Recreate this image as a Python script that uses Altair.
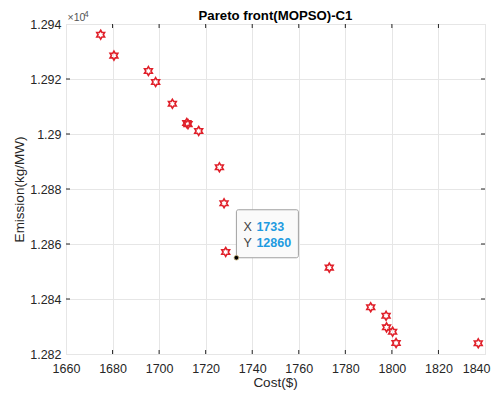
import altair as alt
import pandas as pd

# Pareto front points (Cost in $, Emission in kg/MW)
cost = [1674.9, 1680.6, 1695.4, 1698.5, 1705.7, 1711.9, 1712.4, 1717.0, 1725.9,
        1727.9, 1728.6, 1773.1, 1790.9, 1797.5, 1797.7, 1800.3, 1801.8, 1837.1]
emission = [12936.1, 12928.5, 12922.9, 12918.9, 12911.0, 12904.0, 12903.6, 12901.1, 12887.9,
            12874.8, 12857.1, 12851.4, 12837.0, 12833.9, 12829.7, 12828.1, 12824.0, 12823.9]

# data tip
tip_cost = [1733.2]
tip_emission = [12855.0]
tip_x_text = ["1733"]
tip_y_text = ["12860"]

title_text = ["Pareto front(MOPSO)-C1"]
x_title = ["Cost($)"]

x_ticks = [1660, 1680, 1700, 1720, 1740, 1760, 1780, 1800, 1820, 1840]
y_ticks = [1.282, 1.284, 1.286, 1.288, 1.29, 1.292, 1.294]
inner_x_ticks = x_ticks[1:-1]
inner_y_ticks = y_ticks[1:-1]

W, H = 419, 330
FONT = "Liberation Sans"
AX = "#262626"

pts = pd.DataFrame({"cost": cost, "emission": emission})
pts["e"] = pts["emission"] / 10000.0
tip = pd.DataFrame({"cost": tip_cost, "emission": tip_emission,
                    "xt": tip_x_text, "yt": tip_y_text})
tip["e"] = tip["emission"] / 10000.0

xscale = alt.Scale(domain=[1660, 1840], nice=False, zero=False)
yscale = alt.Scale(domain=[1.282, 1.294], nice=False, zero=False)

X = alt.X("cost:Q", scale=xscale, title=None,
          axis=alt.Axis(values=x_ticks, grid=True, gridColor="#e6e6e6", tickSize=0,
                        domain=False, labelPadding=8, labelFontSize=12.5, labelFont=FONT,
                        labelColor=AX, format="d", labelFlush=False,
                        labelAlign=alt.condition("datum.value == 1840",
                                                 alt.value("right"), alt.value("center")),
                        labelOffset=alt.condition("datum.value == 1840",
                                                  alt.value(5), alt.value(0))))
Y = alt.Y("e:Q", scale=yscale, title="Emission(kg/MW)",
          axis=alt.Axis(values=y_ticks, grid=True, gridColor="#e6e6e6", tickSize=0,
                        domain=False, labelPadding=5, labelFontSize=12.5, labelFont=FONT,
                        labelColor=AX, titleFont=FONT, titleFontSize=13.5,
                        titleFontWeight="normal", titleColor=AX, titlePadding=3,
                        format="~g", labelFlush=False))

hexagram = ("M0,-1L0.289,-0.5L0.866,-0.5L0.577,0L0.866,0.5L0.289,0.5L0,1"
            "L-0.289,0.5L-0.866,0.5L-0.577,0L-0.866,-0.5L-0.289,-0.5Z")

points = alt.Chart(pts).mark_point(shape=hexagram, size=80, filled=False,
                                   stroke="#e0202a", strokeWidth=1.6, opacity=1).encode(x=X, y=Y)

# inward ticks
xt = pd.DataFrame({"t": inner_x_ticks})
yt = pd.DataFrame({"t": inner_y_ticks})
tick_bottom = alt.Chart(xt).mark_rule(color=AX, strokeWidth=1).encode(
    x=alt.X("t:Q", scale=xscale), y=alt.value(H), y2=alt.value(H - 4))
tick_top = alt.Chart(xt).mark_rule(color=AX, strokeWidth=1).encode(
    x=alt.X("t:Q", scale=xscale), y=alt.value(0), y2=alt.value(4))
tick_left = alt.Chart(yt).mark_rule(color=AX, strokeWidth=1).encode(
    y=alt.Y("t:Q", scale=yscale), x=alt.value(0), x2=alt.value(4))
tick_right = alt.Chart(yt).mark_rule(color=AX, strokeWidth=1).encode(
    y=alt.Y("t:Q", scale=yscale), x=alt.value(W), x2=alt.value(W - 4))

# data tip
box = alt.Chart(tip).mark_rect(fill="#fafafa", stroke="#a0a0a0", strokeWidth=1,
                               cornerRadius=2, x2Offset=62, y2Offset=-48).encode(
    x=alt.X("cost:Q", scale=xscale), x2="cost:Q",
    y=alt.Y("e:Q", scale=yscale), y2="e:Q")
dot = alt.Chart(tip).mark_point(filled=True, color="black", size=22, opacity=1,
                                stroke="#c9b27a", strokeWidth=0.8).encode(
    x=alt.X("cost:Q", scale=xscale), y=alt.Y("e:Q", scale=yscale))
lab_x = alt.Chart(tip).mark_text(text="X", align="left", baseline="middle", dx=7, dy=-31,
                                 font=FONT, fontSize=12.5, color="#444444").encode(
    x=alt.X("cost:Q", scale=xscale), y=alt.Y("e:Q", scale=yscale))
lab_y = alt.Chart(tip).mark_text(text="Y", align="left", baseline="middle", dx=7, dy=-15,
                                 font=FONT, fontSize=12.5, color="#444444").encode(
    x=alt.X("cost:Q", scale=xscale), y=alt.Y("e:Q", scale=yscale))
val_x = alt.Chart(tip).mark_text(align="left", baseline="middle", dx=20, dy=-31,
                                 font=FONT, fontSize=12.5, fontWeight="bold",
                                 color="#1e9be0").encode(
    x=alt.X("cost:Q", scale=xscale), y=alt.Y("e:Q", scale=yscale), text="xt:N")
val_y = alt.Chart(tip).mark_text(align="left", baseline="middle", dx=20, dy=-15,
                                 font=FONT, fontSize=12.5, fontWeight="bold",
                                 color="#1e9be0").encode(
    x=alt.X("cost:Q", scale=xscale), y=alt.Y("e:Q", scale=yscale), text="yt:N")

# exponent label
exp_df = pd.DataFrame({"a": ["×10"], "b": ["4"]})
exp_a = alt.Chart(exp_df).mark_text(align="left", baseline="alphabetic", font=FONT,
                                    fontSize=10.5, color="#555555").encode(
    x=alt.value(1.5), y=alt.value(-3), text="a:N")
exp_b = alt.Chart(exp_df).mark_text(align="left", baseline="alphabetic", font=FONT,
                                    fontSize=8.5, color="#555555").encode(
    x=alt.value(18), y=alt.value(-7.5), text="b:N")

# chart title and x-axis title as text marks
title_df = pd.DataFrame({"t": title_text})
title = alt.Chart(title_df).mark_text(align="center", baseline="alphabetic", font=FONT,
                                      fontSize=13.2, fontWeight="bold", color="black").encode(
    x=alt.value(W / 2), y=alt.value(-4), text="t:N")
xt_df = pd.DataFrame({"t": x_title})
xtitle = alt.Chart(xt_df).mark_text(align="center", baseline="alphabetic", font=FONT,
                                    fontSize=13.5, color=AX).encode(
    x=alt.value(W / 2), y=alt.value(H + 33), text="t:N")

chart = alt.layer(
    tick_bottom, tick_top, tick_left, tick_right,
    points, box, dot, lab_x, lab_y, val_x, val_y, exp_a, exp_b, title, xtitle
).properties(
    width=W, height=H,
    autosize=alt.AutoSizeParams(type="none"),
    padding={"left": 58, "top": 16, "right": 6, "bottom": 37},
).configure_view(stroke=AX, strokeWidth=1).configure(background="white")

chart.save("out.html", embed_options={"renderer": "svg", "actions": False})
